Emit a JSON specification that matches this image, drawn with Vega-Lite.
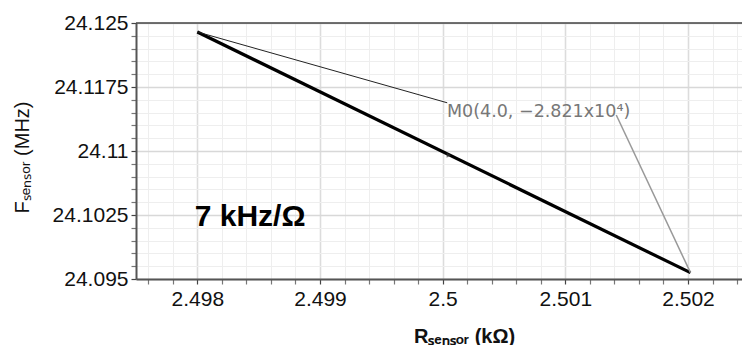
{
  "$schema": "https://vega.github.io/schema/vega-lite/v6.json",
  "autosize": "none",
  "width": 606,
  "height": 256,
  "padding": {"left": 136, "top": 23, "right": 0, "bottom": 66},
  "background": "white",
  "config": {
    "view": {"stroke": null},
    "font": "Liberation Sans",
    "axis": {
      "labelFont": "Liberation Sans",
      "labelFontSize": 21,
      "labelColor": "#111",
      "titleFont": "Liberation Sans",
      "titleColor": "#111",
      "domainColor": "#555",
      "domainWidth": 2,
      "tickSize": 5,
      "tickWidth": 1.2,
      "labelOverlap": false,
      "labelFlush": false
    }
  },
  "datasets": {
    "lines": [
      {"series": "fit", "ord": 0, "r": 2.498, "f": 24.12395},
      {"series": "fit", "ord": 1, "r": 2.50202, "f": 24.09574},
      {"series": "lead1", "ord": 0, "r": 2.498, "f": 24.12395},
      {"series": "lead1", "ord": 1, "r": 2.500037, "f": 24.11565},
      {"series": "lead2", "ord": 0, "r": 2.501415, "f": 24.11422},
      {"series": "lead2", "ord": 1, "r": 2.50202, "f": 24.09574}
    ],
    "marker": [{"r": 2.50005, "f": 24.1095}],
    "labels": [
      {"kind": "marker", "r": 2.500035, "f": 24.1146, "text": "M0(4.0, −2.821x10⁴)"},
      {"kind": "slope", "r": 2.49843, "f": 24.10225, "text": "7 kHz/Ω"}
    ]
  },
  "layer": [
    {
      "data": {"name": "lines"},
      "transform": [{"filter": "datum.series === 'fit'"}],
      "mark": {"type": "line", "color": "#000", "strokeWidth": 3.2, "clip": true},
      "encoding": {
        "x": {
          "field": "r", "type": "quantitative",
          "scale": {"domain": [2.4975, 2.50244], "nice": false, "zero": false},
          "axis": {
            "title": "Rₛₑₙₛₒᵣ (kΩ)",
            "titleFontSize": 20,
            "titleFontWeight": "bold",
            "titleX": 328,
            "titleY": 57,
            "titleBaseline": "middle",
            "labelOverlap": false,
            "tickCount": 200,
            "values": [2.4976, 2.4978, 2.498, 2.4982, 2.4984, 2.4986, 2.4988, 2.499, 2.4992, 2.4994, 2.4996, 2.4998, 2.5, 2.5002, 2.5004, 2.5006, 2.5008, 2.501, 2.5012, 2.5014, 2.5016, 2.5018, 2.502, 2.5022, 2.5024],
            "labelExpr": "round(datum.value*10000) % 10 === 0 ? format(datum.value, '~g') : ''",
            "labelPadding": 4,
            "grid": true,
            "gridColor": {"condition": {"test": "round(datum.value*10000) % 10 === 0", "value": "#dcdcdc"}, "value": "#eeeeee"},
            "gridWidth": {"condition": {"test": "round(datum.value*10000) % 10 === 0", "value": 1.6}, "value": 1},
            "tickColor": {"condition": {"test": "round(datum.value*10000) % 10 === 0", "value": "#444"}, "value": "#777"}
          }
        },
        "y": {
          "field": "f", "type": "quantitative",
          "scale": {"domain": [24.095, 24.125], "nice": false, "zero": false},
          "axis": {
            "title": "Fₛₑₙₛₒᵣ (MHz)",
            "titleFontSize": 20,
            "titleFontWeight": "normal",
            "titlePadding": 20,
            "titleY": 134,
            "labelOverlap": false,
            "tickCount": 200,
            "values": [24.095, 24.0965, 24.098, 24.0995, 24.101, 24.1025, 24.104, 24.1055, 24.107, 24.1085, 24.11, 24.1115, 24.113, 24.1145, 24.116, 24.1175, 24.119, 24.1205, 24.122, 24.1235, 24.125],
            "labelExpr": "round((datum.value-24.095)*10000) % 75 === 0 ? format(datum.value, '~g') : ''",
            "labelPadding": 3,
            "grid": true,
            "gridColor": {"condition": {"test": "round((datum.value-24.095)*10000) % 75 === 0", "value": "#d8d8d8"}, "value": "#eeeeee"},
            "gridWidth": {"condition": {"test": "round((datum.value-24.095)*10000) % 75 === 0", "value": 1.6}, "value": 1},
            "tickColor": {"condition": {"test": "round((datum.value-24.095)*10000) % 75 === 0", "value": "#444"}, "value": "#777"}
          }
        },
        "order": {"field": "ord"}
      }
    },
    {
      "data": {"values": [{"f": 24.125}]},
      "mark": {"type": "rule", "color": "#444", "strokeWidth": 1.5},
      "encoding": {"y": {"field": "f", "type": "quantitative"}}
    },
    {
      "data": {"name": "lines"},
      "transform": [{"filter": "datum.series === 'lead1'"}],
      "mark": {"type": "line", "color": "#222", "strokeWidth": 1},
      "encoding": {
        "x": {"field": "r", "type": "quantitative"},
        "y": {"field": "f", "type": "quantitative"},
        "order": {"field": "ord"}
      }
    },
    {
      "data": {"name": "lines"},
      "transform": [{"filter": "datum.series === 'lead2'"}],
      "mark": {"type": "line", "color": "#999", "strokeWidth": 1.5},
      "encoding": {
        "x": {"field": "r", "type": "quantitative"},
        "y": {"field": "f", "type": "quantitative"},
        "order": {"field": "ord"}
      }
    },
    {
      "data": {"name": "marker"},
      "mark": {"type": "point", "shape": "triangle-right", "size": 25, "filled": true, "color": "#333"},
      "encoding": {
        "x": {"field": "r", "type": "quantitative"},
        "y": {"field": "f", "type": "quantitative"}
      }
    },
    {
      "data": {"name": "labels"},
      "transform": [{"filter": "datum.kind === 'marker'"}],
      "mark": {"type": "text", "align": "left", "baseline": "middle", "font": "DejaVu Sans", "fontSize": 17.5, "color": "#777"},
      "encoding": {
        "x": {"field": "r", "type": "quantitative"},
        "y": {"field": "f", "type": "quantitative"},
        "text": {"field": "text"}
      }
    },
    {
      "data": {"name": "labels"},
      "transform": [{"filter": "datum.kind === 'slope'"}],
      "mark": {"type": "text", "align": "center", "baseline": "middle", "font": "Liberation Sans", "fontSize": 30, "fontWeight": "bold", "color": "#000"},
      "encoding": {
        "x": {"field": "r", "type": "quantitative"},
        "y": {"field": "f", "type": "quantitative"},
        "text": {"field": "text"}
      }
    }
  ]
}
